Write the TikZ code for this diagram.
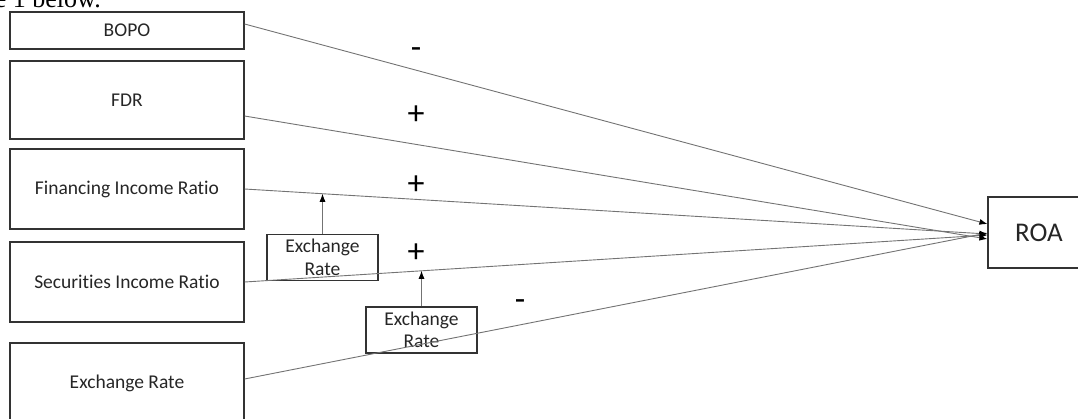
\documentclass[tikz,border=0pt]{standalone}
\usepackage{fontspec}
\setmainfont{Carlito}[Ligatures=NoCommon]
\newfontfamily\clipfont{Liberation Serif}
\usetikzlibrary{arrows.meta}

\begin{document}
\begin{tikzpicture}[x=1pt,y=-1pt,
  varbox/.style={draw=black!80, line width=1.2pt, minimum width=234pt, inner sep=0pt, text=black!85, font=\fontsize{19.5}{23}\selectfont},
  modbox/.style={draw=black!80, line width=1.2pt, minimum width=111pt, minimum height=46pt, inner sep=0pt, align=center, text=black!85, font=\fontsize{19.5}{22.5}\selectfont},
  link/.style={draw=black!55, line width=0.9pt, -{Latex[length=8pt,width=6pt,color=black]}},
  sign/.style={inner sep=0pt, font=\fontsize{34}{34}\selectfont}]
\useasboundingbox (0,0) rectangle (1078,418);
\node[anchor=base east, inner sep=0pt, font=\clipfont\fontsize{26}{28}\selectfont] (caption) at (101,7) {e 1 below.};
% variables
\node[varbox, minimum height=37pt] (bopo) at (127,30.5) {BOPO};
\node[varbox, minimum height=78pt] (fdr) at (127,100) {FDR};
\node[varbox, minimum height=80pt] (fir) at (127,189) {Financing Income Ratio};
\node[varbox, minimum height=80pt] (sir) at (127,282) {Securities Income Ratio};
\node[varbox, minimum height=80pt] (exr) at (127,383) {Exchange Rate};
\node[draw=black!80, line width=1.2pt, minimum width=102pt, minimum height=71pt, text=black!85, font=\fontsize{27}{29}\selectfont] (roa) at (1039,232.5) {ROA};
% moderators
\node[modbox] (modA) at (322.5,257.5) {Exchange\\Rate};
\node[modbox] (modB) at (421.5,330) {Exchange\\Rate};
% paths
\draw[link] ([yshift=6.5pt]bopo.east) -- ([yshift=8.5pt]roa.west);
\draw[link] ([yshift=-16pt]fdr.east) -- ([yshift=-6.5pt]roa.west);
\draw[link] (fir.east) -- coordinate[pos=0.1055] (onA) ([yshift=-1.5pt]roa.west);
\draw[link] (sir.east) -- coordinate[pos=0.2386] (onB) ([yshift=-2.5pt]roa.west);
\draw[link] ([yshift=4pt]exr.east) -- ([yshift=-0.5pt]roa.west);
\draw[link] (modA.north) -- (modA.north |- onA);
\draw[link] (modB.north) -- (modB.north |- onB);
% signs
\node[sign] (sgnA) at (416,53) {-};
\node[sign] (sgnB) at (416,115) {+};
\node[sign] (sgnC) at (416,185) {+};
\node[sign] (sgnD) at (416,253) {+};
\node[sign] (sgnE) at (520,305) {-};
\end{tikzpicture}
\end{document}
